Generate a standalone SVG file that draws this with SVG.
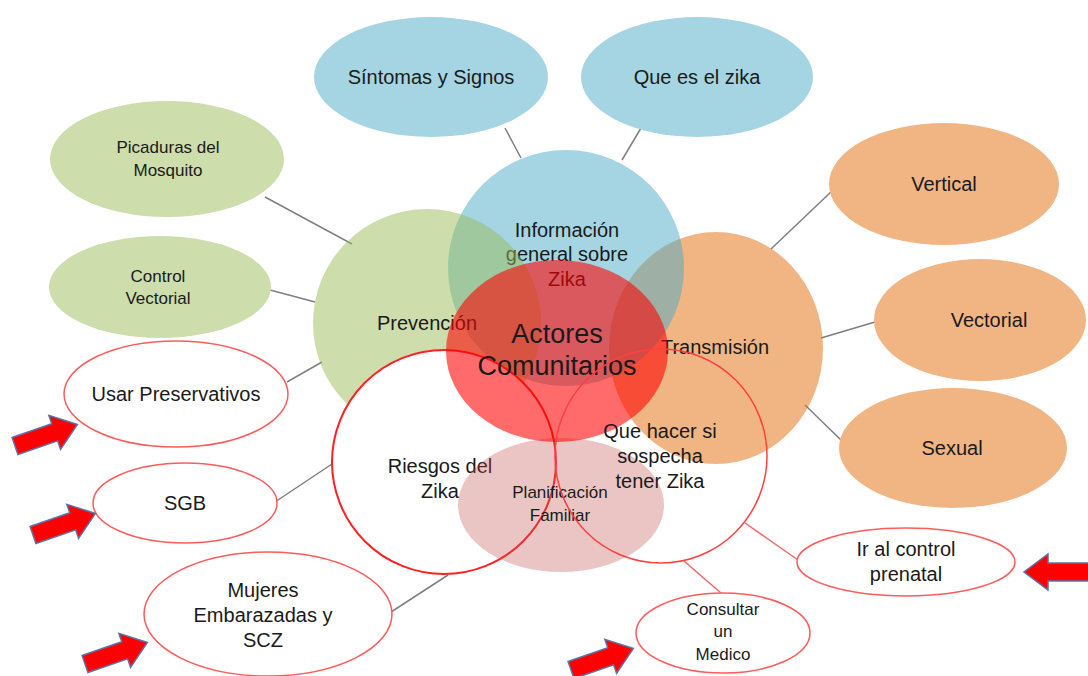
<svg xmlns="http://www.w3.org/2000/svg" width="1088" height="676" viewBox="0 0 1088 676">
<defs>
<style>
text{font-family:"Liberation Sans",Arial,sans-serif;fill:#1a1a1a;text-anchor:middle}
.t20{font-size:20px}
.t17{font-size:17px}
.t27{font-size:27px}
.blue{fill:#A5D5E2}
.green{fill:#CDDDAC}
.orange{fill:#F1B584}
.wht{fill:#fff;stroke:#FF5B5B;stroke-width:1.5}
.gl{stroke:#7F7F7F;stroke-width:1.5}
.rl{stroke:#F06A6A;stroke-width:1.5}
.arr{fill:#FF0000;stroke:#5A74A8;stroke-width:1.5;stroke-linejoin:miter}
</style>
<path id="arrow" d="M0,-9 L42,-9 L42,-18 L66,0 L42,18 L42,9 L0,9 Z"/>
</defs>
<rect width="1088" height="676" fill="#fff"/>

<g id="connectors">
<line class="gl" x1="505" y1="128" x2="521" y2="158"/>
<line class="gl" x1="641" y1="128" x2="622" y2="160"/>
<line class="gl" x1="265" y1="197" x2="352" y2="244"/>
<line class="gl" x1="270" y1="290" x2="315" y2="302"/>
<line class="gl" x1="287" y1="382" x2="322" y2="362"/>
<line class="gl" x1="833" y1="190" x2="771" y2="249"/>
<line class="gl" x1="875" y1="322" x2="821" y2="338"/>
<line class="gl" x1="843" y1="442" x2="805" y2="405"/>
<line class="gl" x1="275" y1="502" x2="332" y2="464"/>
<line class="gl" x1="388" y1="614" x2="448" y2="575"/>
<line class="rl" x1="745" y1="523" x2="798" y2="560"/>
<line class="rl" x1="684" y1="561" x2="721" y2="593"/>
</g>

<g id="sintomas"><ellipse class="blue" cx="431" cy="77" rx="117" ry="60"/><text class="t20" x="431" y="84">Síntomas y Signos</text></g>
<g id="quees"><ellipse class="blue" cx="697" cy="77" rx="116" ry="60"/><text class="t20" x="697" y="84">Que es el zika</text></g>
<g id="picaduras"><ellipse class="green" cx="167" cy="159" rx="117" ry="58"/><text class="t17" x="168" y="153">Picaduras del</text><text class="t17" x="168" y="176">Mosquito</text></g>
<g id="control"><ellipse class="green" cx="160" cy="287" rx="111" ry="51"/><text class="t17" x="158" y="282">Control</text><text class="t17" x="158" y="304">Vectorial</text></g>
<g id="vertical"><ellipse class="orange" cx="944" cy="184" rx="115" ry="61"/><text class="t20" x="944" y="191">Vertical</text></g>
<g id="vectorial"><ellipse class="orange" cx="980" cy="320" rx="106" ry="61"/><text class="t20" x="989" y="327">Vectorial</text></g>
<g id="sexual"><ellipse class="orange" cx="953" cy="448" rx="114" ry="60"/><text class="t20" x="952" y="455">Sexual</text></g>

<g id="preservativos"><ellipse class="wht" cx="176" cy="394" rx="112" ry="53"/><text class="t20" x="176" y="401">Usar Preservativos</text></g>
<g id="sgb"><ellipse class="wht" cx="185" cy="503" rx="92" ry="40"/><text class="t20" x="185" y="510">SGB</text></g>
<g id="mujeres"><ellipse class="wht" cx="268" cy="614" rx="124" ry="62"/><text class="t20" x="263" y="597">Mujeres</text><text class="t20" x="263" y="622">Embarazadas y</text><text class="t20" x="263" y="647">SCZ</text></g>
<g id="prenatal"><ellipse class="wht" cx="906" cy="562" rx="109" ry="34"/><text class="t20" x="906" y="556">Ir al control</text><text class="t20" x="906" y="581">prenatal</text></g>
<g id="medico"><ellipse class="wht" cx="723" cy="633" rx="87" ry="40"/><text class="t17" x="723" y="615">Consultar</text><text class="t17" x="723" y="637">un</text><text class="t17" x="723" y="660">Medico</text></g>

<g id="transmision"><ellipse cx="716" cy="348" rx="107" ry="116" fill="#E46C0A" fill-opacity="0.5"/><text class="t20" x="715" y="354">Transmisión</text></g>
<g id="informacion"><circle cx="566" cy="268" r="118" fill="#4BACC6" fill-opacity="0.5"/><text class="t20" x="567" y="237">Información</text><text class="t20" x="567" y="261">general sobre</text><text class="t20" x="567" y="286">Zika</text></g>
<g id="prevencion"><circle cx="427" cy="323" r="114" fill="#9BBB59" fill-opacity="0.5"/><text class="t20" x="427" y="330">Prevención</text></g>
<g id="riesgos"><circle cx="444" cy="462" r="112" fill="#fff" stroke="#FF2020" stroke-width="2"/><text class="t20" x="440" y="473">Riesgos del</text><text class="t20" x="440" y="498">Zika</text></g>
<g id="planificacion"><ellipse cx="561" cy="505" rx="103" ry="67" fill="#C0504D" fill-opacity="0.33"/><text class="t17" x="560" y="498">Planificación</text><text class="t17" x="560" y="521">Familiar</text></g>
<g id="actores"><ellipse cx="557" cy="351" rx="111" ry="91" fill="#FF0000" fill-opacity="0.58"/><text class="t27" x="557" y="343">Actores</text><text class="t27" x="557" y="375">Comunitarios</text></g>
<g id="quehacer"><ellipse cx="661" cy="456" rx="106" ry="107" fill="none" stroke="#FF4040" stroke-width="1.5"/><text class="t20" x="660" y="438">Que hacer si</text><text class="t20" x="660" y="463">sospecha</text><text class="t20" x="660" y="488">tener Zika</text></g>

<g id="arrows">
<use href="#arrow" class="arr" transform="translate(15,446) rotate(-19)"/>
<use href="#arrow" class="arr" transform="translate(33,535) rotate(-19)"/>
<use href="#arrow" class="arr" transform="translate(85,664) rotate(-19)"/>
<use href="#arrow" class="arr" transform="translate(571,670) rotate(-19)"/>
<use href="#arrow" class="arr" transform="translate(1090,572) rotate(180)"/>
</g>
</svg>
